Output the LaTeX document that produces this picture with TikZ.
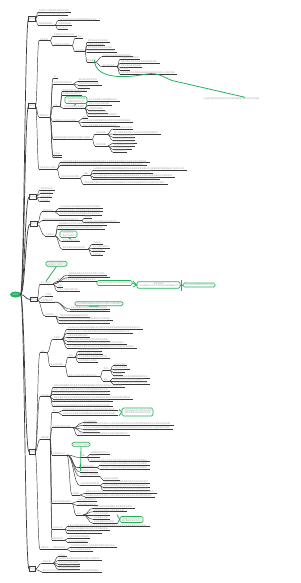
\documentclass[tikz,border=0pt]{standalone}
\usepackage{fontspec}
\newfontfamily\cjk{Noto Sans CJK SC}
\usetikzlibrary{shapes.geometric}
\definecolor{mmline}{HTML}{3A3A3A}
\definecolor{mmtxt}{HTML}{A8A8A8}
\definecolor{mmgreen}{HTML}{22B15E}
\ExplSyntaxOn
\tl_const:Nn \c_fk_tl {学习内容要点分析方法总结知识结构理解应用问题思考实践案例基础概念原则特点作用意义过程步骤条件要求目标任务环境资源管理发展变化关系影响因素效果评价标准体系模式策略措施能力素质水平提高形成规律现象本质原因结果主要次要重点难点内在外在联系区别比较归纳演绎逻辑思维创新设计研究调查数据信息资料文献理论观点}
\NewDocumentCommand\fakecn{mm}{\tl_set:Nx \l_tmpa_tl {\tl_range:Nnn \c_fk_tl {#1}{#2}}\l_tmpa_tl}
\ExplSyntaxOff
\tikzset{
  ul/.style={draw=mmline, line width=0.6pt},
  conn/.style={draw=mmline, line width=0.45pt},
  rconn/.style={draw=mmline, line width=0.7pt},
  txt/.style={anchor=south west, inner sep=0.2pt, font={\cjk\fontsize{2}{2.4}\selectfont}, text=mmtxt},
  lbox/.style={draw=mmline, line width=0.6pt, minimum height=4.5pt, inner sep=0pt, font={\cjk\fontsize{2}{2.4}\selectfont}, text=mmtxt},
  gbx/.style={draw=mmgreen, line width=0.7pt, rounded corners=1.5pt, fill=white, inner sep=0.3pt, font={\cjk\fontsize{2}{2.4}\selectfont}, text=mmtxt, align=center},
  gconn/.style={draw=mmgreen, line width=0.8pt},
  rootnode/.style={ellipse, fill=mmgreen, minimum width=11pt, minimum height=6pt, inner sep=0pt, font={\cjk\fontsize{2}{2.4}\selectfont}, text=white}
}
% topic: name, parent, x1, x2, y
\newcommand\tp[5]{%
  \coordinate (#1-s) at (#3,#5);
  \coordinate (#1-e) at (#4,#5);
  \expandafter\xdef\csname xe#1\endcsname{#4}%
  \pgfmathsetmacro\cdx{(#3-\csname xe#2\endcsname)/2}%
  \draw[conn] (#2-e) .. controls +(\cdx,0) and +(-\cdx,0) .. (#1-s);
  \draw[ul] (#1-s) -- (#1-e);
  \pgfmathtruncatemacro\nch{max(1,(#4-#3-1.5)/2.05)}%
  \pgfmathtruncatemacro\fks{mod(round(#5*7),50)+1}%
  \pgfmathtruncatemacro\fke{\fks+\nch-1}%
  \node[txt] (#1) at ([xshift=0.5pt]#1-s) {\fakecn{\fks}{\fke}};
}
% level-1 box: name, x1, x2, y
\newcommand\lb[4]{%
  \coordinate (#1-s) at (#2,#4);
  \coordinate (#1-e) at (#3,#4);
  \expandafter\xdef\csname xe#1\endcsname{#3}%
  \pgfmathsetmacro\cdx{(#2-21)/2}%
  \draw[rconn] (R-e) .. controls +(\cdx,0) and +(-\cdx,0) .. (#1-s);
  \node[lbox, minimum width={#3pt-#2pt}] (#1) at ({(#2+#3)/2},#4) {\fakecn{5}{7}};
}
% green callout: name, x1, x2, y1, y2, text
\newcommand\gc[6]{%
  \node[gbx, minimum width={#3pt-#2pt}, minimum height={#5pt-#4pt}] (#1) at ({(#2+#3)/2},{(#4+#5)/2}) {#6};
}
\begin{document}
\begin{tikzpicture}[x=1pt,y=-1pt]
\useasboundingbox (0,0) rectangle (300,583);
\fill[white] (0,0) rectangle (300,583);
\node[rootnode] (R) at (15.5,294.5) {\fakecn{1}{3}};
\coordinate (R-e) at (20.5,294.5);
% level 1
\lb{B1}{28.5}{35.5}{19}
\lb{B2}{28.5}{35.5}{106}
\lb{B3}{29}{36}{197}
\lb{B4}{30}{37}{224}
\lb{B5}{30}{37}{299.5}
\lb{B6}{29}{35}{452}
\lb{B7}{29}{35}{569}
% ---- B1
\tp{a1}{B1}{38}{71}{12.3}
\tp{a2}{B1}{38}{68}{15.3}
\tp{a3}{B1}{38}{55}{25}
\tp{a31}{a3}{58}{100}{20.7}
\tp{a32}{a3}{58}{72}{25}
\tp{a33}{a3}{58}{68}{29.3}
% ---- B2
\tp{b1}{B2}{39}{50}{40.7}
\tp{b11}{b1}{53}{77}{36}
\tp{b12}{b1}{53}{72}{45.7}
\tp{b121}{b12}{75}{83}{38.3}
\tp{b122}{b12}{75}{85}{51.7}
\tp{b1221}{b122}{87}{110}{42.3}
\tp{b1222}{b122}{87}{105}{45.7}
\tp{b1223}{b122}{87}{115}{49}
\tp{b1224}{b122}{87}{117}{52.3}
\tp{b1225}{b122}{87}{95}{62.3}
\tp{b12251}{b1225}{102}{133}{56.7}
\tp{b12252}{b1225}{102}{117}{66.7}
\tp{b122521}{b12252}{120}{140}{59.3}
\tp{b122522}{b12252}{120}{160}{63.3}
\tp{b122523}{b12252}{120}{142}{67.3}
\tp{b122524}{b12252}{120}{130}{70.5}
\tp{b122525}{b12252}{120}{177}{74}
\tp{b2}{B2}{39}{50}{117.3}
\tp{b21}{b2}{53}{58}{78.3}
\tp{b22}{b2}{53}{73}{84.3}
\tp{b221}{b22}{78}{98}{81}
\tp{b222}{b22}{78}{102}{85}
\tp{b223}{b22}{78}{90}{88.3}
\tp{b23}{b2}{53}{60}{106.7}
\tp{b231}{b23}{62}{87}{91.7}
\tp{b232}{b23}{62}{82}{95}
\tp{b233}{b23}{63}{85}{108.3}
\gc{gb1}{65}{87}{96.7}{103.5}{\fakecn{10}{18}\\\fakecn{30}{37}}
\draw[gconn] (gb1.south) -- (b233.north);
\tp{b2331}{b233}{88}{120}{101}
\tp{b2332}{b233}{88}{112}{105.3}
\tp{b2333}{b233}{88}{105}{110}
\tp{b2334}{b233}{88}{108}{113.3}
\tp{b2335}{b233}{88}{120}{116.3}
\tp{b24}{b2}{53}{78}{121.7}
\tp{b241}{b24}{82}{88}{118.8}
\tp{b242}{b24}{82}{133}{122.5}
\tp{b243}{b24}{82}{120}{126.7}
\tp{b25}{b2}{53}{92}{139.3}
\tp{b251}{b25}{95}{107}{134.3}
\tp{b2511}{b251}{113}{133}{129}
\tp{b2512}{b251}{113}{161}{134}
\tp{b2513}{b251}{113}{135}{137.5}
\tp{b2514}{b251}{113}{135}{140.5}
\tp{b252}{b25}{95}{108}{146}
\tp{b2521}{b252}{113}{137}{143}
\tp{b2522}{b252}{113}{135}{146.5}
\tp{b2523}{b252}{113}{132}{149.5}
\tp{b2524}{b252}{113}{127}{152.3}
\tp{b26}{b2}{53}{62}{155}
\tp{b27}{b2}{53}{62}{157.7}
\tp{b3}{B2}{39}{57}{169.3}
\tp{b31}{b3}{60}{150}{162.7}
\tp{b32}{b3}{60}{147}{165.7}
\tp{b33}{b3}{60}{80}{178.3}
\tp{b33a}{b33}{83}{90}{175.5}
\tp{b331}{b33a}{93}{187}{170.5}
\tp{b332}{b33a}{93}{153}{173.5}
\tp{b333}{b33a}{93}{175}{176.8}
\tp{b334}{b33a}{93}{160}{179.7}
\tp{b335}{b33}{83}{168}{184.3}
% floating topic and relation
\node[txt, anchor=center] (ft) at (231,98.6) {\fakecn{40}{67}};
\coordinate (gmid) at (147,74);
\coordinate (gmid2) at (172,80.5);
\draw[gconn] (b1225.north east) .. controls (95,78) and (120,79) .. (gmid) .. controls (158,72) and (165,78) .. (gmid2) -- ([xshift=14pt]ft.north);
% ---- B3
\tp{c1}{B3}{40}{55}{190}
\tp{c2}{B3}{40}{53}{193.7}
\tp{c3}{B3}{40}{52}{197.7}
\tp{c4}{B3}{40}{50}{201.7}
% ---- B4
\tp{d1}{B4}{42}{55}{211.7}
\tp{d11}{d1}{59}{103}{208.3}
\tp{d12}{d1}{59}{103}{211.7}
\tp{d13}{d1}{59}{102}{215}
\tp{d2}{B4}{42}{82}{220.7}
\tp{d21}{d2}{84}{92}{218.3}
\tp{d22}{d2}{84}{120}{222.7}
\tp{d3}{B4}{45}{55}{236}
\tp{d31}{d3}{58}{107}{225.3}
\tp{d32}{d3}{58}{105}{229}
\tp{d33}{d3}{62}{80}{241.7}
\tp{d34}{d3}{62}{88}{249}
\tp{d341}{d34}{92}{103}{244.3}
\tp{d342}{d34}{92}{110}{248.3}
\tp{d343}{d34}{92}{105}{251.7}
\tp{d344}{d34}{92}{103}{255.7}
\gc{gd}{60}{77}{231}{237.5}{\fakecn{20}{24}\\\fakecn{70}{75}}
\draw[gconn] (gd.south) -- (d33.north);
% ---- B5
\tp{e1}{B5}{40}{53}{284}
\tp{e11}{e1}{68}{107}{275}
\tp{e12}{e1}{68}{110}{277.7}
\tp{e13}{e1}{57}{98}{281}
\tp{e14}{e1}{57}{63}{287.3}
\tp{e15}{e1}{57}{80}{291}
\tp{e2}{B5}{45}{53}{296}
\tp{e3}{B5}{40}{55}{302}
\tp{e31}{e3}{70}{110}{309}
\tp{e32}{e3}{70}{110}{311.7}
\tp{e4}{B5}{45}{55}{316}
\tp{e41}{e4}{59}{90}{317.3}
\tp{e42}{e4}{59}{113}{320.3}
\tp{e43}{e4}{59}{110}{323.5}
\gc{ge}{46}{67}{261.5}{266}{\fakecn{33}{40}\\\fakecn{80}{88}}
\draw[gconn] (ge.south) -- (e1.north);
\gc{g1}{97}{132}{280.5}{285.5}{\fakecn{12}{27}}
\gc{g2}{137}{180}{281.7}{288.3}{\fakecn{50}{54}\\\fakecn{2}{20}}
\gc{g3}{183}{215}{283}{287}{\fakecn{61}{74}}
\coordinate (x1a) at (133,281); \coordinate (x1b) at (133,287);
\draw[gconn] (g1.east) -- (g2.west);
\draw[gconn] (x1a) -- (g2.west) -- (x1b);
\coordinate (x2a) at (181.5,280); \coordinate (x2b) at (181.5,290.5);
\draw[gconn] (g2.east) -- (g3.west);
\draw[gconn] (x2a) -- (x2b);
\gc{gc3}{75}{123}{301.7}{305.7}{\fakecn{24}{45}}
\draw[gconn] (gc3.south) -- (e31.north);
% ---- B6
\tp{f1}{B6}{40}{47}{352.7}
\tp{f11}{f1}{53}{62}{339}
\tp{f111}{f11}{67}{143}{329.3}
\tp{f112}{f11}{67}{133}{333.3}
\tp{f113}{f11}{67}{90}{337.3}
\tp{f114}{f11}{67}{110}{341}
\tp{f115}{f11}{67}{127}{344.5}
\tp{f116}{f11}{67}{137}{348.3}
\tp{f12}{f1}{50}{65}{366}
\tp{f121}{f12}{68}{75}{357}
\tp{f1211}{f121}{78}{102}{351.5}
\tp{f1212}{f121}{78}{103}{354.7}
\tp{f1213}{f121}{78}{110}{358.3}
\tp{f1214}{f121}{78}{98}{362}
\tp{f122}{f12}{68}{100}{376.7}
\tp{f1221}{f122}{103}{110}{370.5}
\tp{f12211}{f1221}{113}{127}{365.7}
\tp{f12212}{f1221}{113}{130}{369}
\tp{f12213}{f1221}{113}{125}{372}
\tp{f12214}{f1221}{113}{123}{375}
\tp{f1222}{f122}{103}{110}{381}
\tp{f12221}{f1222}{113}{150}{378}
\tp{f12222}{f1222}{113}{147}{381}
\tp{f12223}{f1222}{113}{150}{384}
\tp{f2}{B6}{40}{50}{396.7}
\tp{f21}{f2}{53}{125}{387.3}
\tp{f22}{f2}{53}{110}{391}
\tp{f23}{f2}{53}{110}{394.3}
\tp{f24}{f2}{53}{133}{399}
\tp{f25}{f2}{53}{113}{401.7}
\tp{f26}{f2}{53}{113}{406.7}
\tp{f5}{B6}{40}{50}{439.3}
\tp{f3}{f5}{52}{58}{412.5}
\tp{f31}{f3}{62}{118}{410.7}
\tp{f32}{f3}{62}{118}{415}
\gc{gb6}{122}{153}{408}{416}{\fakecn{14}{27}\\\fakecn{44}{56}}
\coordinate (k6a) at (119,409.5); \coordinate (k6b) at (119,416);
\draw[gconn] (k6a) -- (gb6.west) -- (k6b);
\tp{f4}{f5}{52}{73}{427.7}
\tp{f41}{f4}{83}{97}{422.7}
\tp{f42}{f4}{83}{174}{425.3}
\tp{f43}{f4}{83}{173}{429.3}
\tp{f44}{f4}{83}{100}{432.3}
\tp{f45}{f4}{77}{130}{435.3}
\tp{f6}{f5}{52}{67}{455}
\tp{f6a}{f6}{80}{87}{457.5}
\tp{f61}{f6a}{90}{110}{454}
\tp{f62}{f6a}{90}{100}{457.5}
\tp{f63}{f6a}{90}{150}{461.7}
\tp{f64}{f6}{78}{97}{467.7}
\tp{f641}{f64}{100}{150}{465}
\tp{f642}{f64}{100}{150}{469.3}
\tp{f65}{f6}{80}{98}{472}
\tp{f66}{f6}{80}{100}{476.5}
\tp{f661}{f66}{103}{120}{480}
\tp{f67}{f6}{80}{100}{485.5}
\tp{f671}{f67}{103}{150}{483.3}
\tp{f672}{f67}{103}{150}{487.3}
\tp{f673}{f67}{103}{150}{490.3}
\tp{f68}{f6}{72}{80}{495}
\tp{f681}{f68}{85}{157}{493.3}
\tp{f682}{f68}{85}{155}{496.8}
\gc{gc6}{72}{90}{442.3}{446.3}{\fakecn{36}{43}}
\draw[gconn] (gc6.south) -- (f65.west);
\tp{f7}{f5}{52}{72}{503.3}
\tp{f71}{f7}{77}{97}{501.5}
\tp{f72}{f7}{77}{98}{505.7}
\tp{f73}{f7}{76}{83}{515}
\tp{f731}{f73}{93}{135}{508.3}
\tp{f732}{f73}{93}{127}{511.7}
\tp{f733}{f73}{93}{110}{515}
\tp{f734}{f73}{93}{110}{519.3}
\tp{f735}{f73}{93}{117}{523.3}
\gc{gc7}{120}{143}{516.5}{522.5}{\fakecn{3}{12}\\\fakecn{27}{36}}
\coordinate (k7a) at (117,514.5); \coordinate (k7b) at (117,524);
\draw[gconn] (k7a) -- (gc7.west) -- (k7b);
\tp{f8}{f5}{52}{65}{529.3}
\tp{f81}{f8}{67}{150}{526.7}
\tp{f82}{f8}{67}{110}{530}
\tp{f83}{f8}{67}{102}{533.3}
\tp{f9}{f5}{52}{65}{540}
\tp{f91}{f9}{68}{90}{538.3}
\tp{f92}{f9}{68}{88}{542.7}
\tp{f10}{B6}{40}{50}{549.3}
\tp{f10a}{f10}{52}{67}{549.3}
\tp{f101}{f10a}{70}{117}{547.3}
\tp{f102}{f10a}{70}{93}{551}
% ---- B7
\tp{h1}{B7}{42}{53}{563.3}
\tp{h11}{h1}{58}{67}{556.7}
\tp{h12}{h1}{58}{102}{560.5}
\tp{h13}{h1}{58}{80}{564}
\tp{h14}{h1}{58}{80}{566.7}
\tp{h15}{h1}{58}{80}{569.3}
\tp{h2}{B7}{42}{102}{572}
\end{tikzpicture}
\end{document}
